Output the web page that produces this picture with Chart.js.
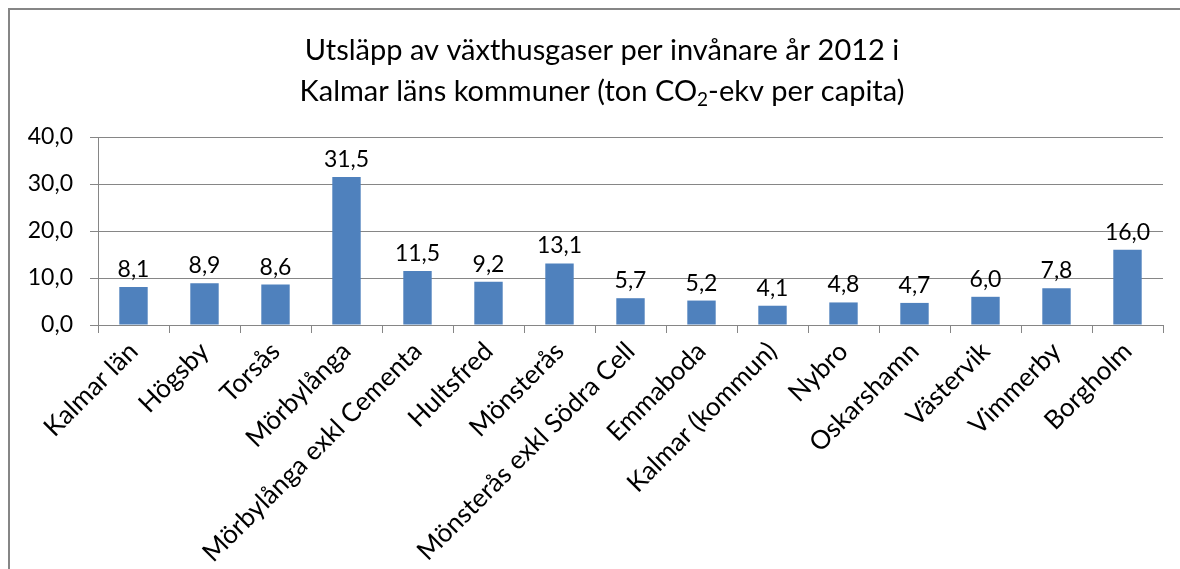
<!DOCTYPE html>
<html>
<head>
<meta charset="utf-8">
<script src="https://cdn.jsdelivr.net/npm/chart.js@4"></script>
<style>
  html, body { margin: 0; padding: 0; background: #fff; }
  #wrap { width: 1180px; height: 569px; }
</style>
</head>
<body>
<div id="wrap"><canvas id="chart" width="1180" height="569"></canvas></div>
<script>
const kommuner = ['Kalmar län', 'Högsby', 'Torsås', 'Mörbylånga', 'Mörbylånga exkl Cementa',
  'Hultsfred', 'Mönsterås', 'Mönsterås exkl Södra Cell', 'Emmaboda', 'Kalmar (kommun)',
  'Nybro', 'Oskarshamn', 'Västervik', 'Vimmerby', 'Borgholm'];
const utslapp = [8.1, 8.9, 8.6, 31.5, 11.5, 9.2, 13.1, 5.7, 5.2, 4.1, 4.8, 4.7, 6.0, 7.8, 16.0];
const titleLine1 = 'Utsläpp av växthusgaser per invånare år 2012 i';
const titleLine2 = ['Kalmar läns kommuner (ton CO', '2', '-ekv per capita)'];

const FONT = 'Lato, "Open Sans", sans-serif';
const fmt = v => v.toFixed(1).replace('.', ',');

// frame + title (title needs subscript 2, so drawn by hand)
const frameAndTitle = {
  id: 'frameAndTitle',
  beforeDraw(chart) {
    const ctx = chart.ctx;
    ctx.save();
    ctx.strokeStyle = '#868686';
    ctx.lineWidth = 2;
    ctx.strokeRect(9, 9, 1200, 600);
    ctx.restore();
  },
  afterDraw(chart) {
    const ctx = chart.ctx;
    ctx.save();
    ctx.fillStyle = '#000';
    ctx.textBaseline = 'alphabetic';
    const big = '29px ' + FONT, small = '19px ' + FONT;
    ctx.font = big;
    ctx.textAlign = 'center';
    const cx = 602;
    ctx.fillText(titleLine1, cx, 60);
    // second line with subscript
    const w1 = ctx.measureText(titleLine2[0]).width;
    const w3 = ctx.measureText(titleLine2[2]).width;
    ctx.font = small;
    const w2 = ctx.measureText(titleLine2[1]).width;
    let x = cx - (w1 + w2 + w3) / 2;
    ctx.textAlign = 'left';
    ctx.font = big;
    ctx.fillText(titleLine2[0], x, 101);
    x += w1;
    ctx.font = small;
    ctx.fillText(titleLine2[1], x, 106);
    x += w2;
    ctx.font = big;
    ctx.fillText(titleLine2[2], x, 101);
    ctx.restore();
  }
};

// value labels above the bars
const valueLabels = {
  id: 'valueLabels',
  afterDatasetsDraw(chart) {
    const ctx = chart.ctx;
    const meta = chart.getDatasetMeta(0);
    ctx.save();
    ctx.font = '23px ' + FONT;
    ctx.fillStyle = '#000';
    ctx.textAlign = 'center';
    ctx.textBaseline = 'alphabetic';
    meta.data.forEach((bar, i) => {
      ctx.fillText(fmt(utslapp[i]), bar.x, bar.y - 10);
    });
    ctx.restore();
  }
};

new Chart(document.getElementById('chart'), {
  type: 'bar',
  data: {
    labels: kommuner,
    datasets: [{
      data: utslapp,
      backgroundColor: '#4F81BD',
      barPercentage: 0.4,
      categoryPercentage: 1.0
    }]
  },
  options: {
    responsive: false,
    animation: false,
    events: [],
    layout: { padding: { left: 10, right: 17, top: 137, bottom: 0 } },
    plugins: {
      legend: { display: false },
      title: { display: false },
      tooltip: { enabled: false }
    },
    scales: {
      x: {
        afterFit(scale) { scale.height = 244; },
        grid: {
          display: true,
          drawOnChartArea: false,
          drawTicks: true,
          tickLength: 8,
          color: '#868686',
          offset: true
        },
        border: { display: true, color: '#868686', width: 1 },
        ticks: {
          minRotation: 45,
          maxRotation: 45,
          autoSkip: false,
          color: '#000',
          padding: 3,
          font: { family: FONT, size: 26 }
        }
      },
      y: {
        min: 0,
        max: 40,
        afterFit(scale) { scale.width = 88; },
        grid: {
          color: '#868686',
          tickLength: 8,
          lineWidth: 1
        },
        border: { display: true, color: '#868686', width: 1 },
        ticks: {
          stepSize: 10,
          color: '#000',
          padding: 17,
          font: { family: FONT, size: 23 },
          callback: v => fmt(v)
        }
      }
    }
  },
  plugins: [frameAndTitle, valueLabels]
});
</script>
</body>
</html>
